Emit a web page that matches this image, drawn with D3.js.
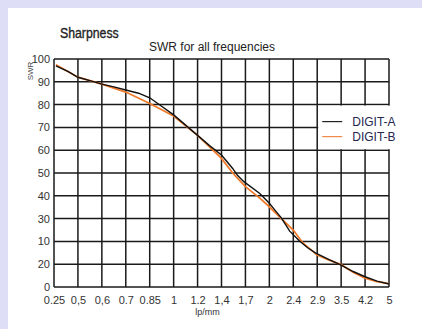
<!DOCTYPE html>
<html>
<head>
<meta charset="utf-8">
<script src="https://cdn.jsdelivr.net/npm/d3@7"></script>
<style>
  body { margin: 0; background: #dedef7; }
  svg { display: block; }
</style>
</head>
<body>
<svg id="chart"></svg>
<script>
var xTicks = [0.25, 0.5, 0.6, 0.7, 0.85, 1, 1.2, 1.4, 1.7, 2, 2.4, 2.9, 3.5, 4.2, 5];
var xLabels = ["0.25", "0,5", "0,6", "0.7", "0.85", "1", "1.2", "1,4", "1,7", "2", "2.4", "2.9", "3.5", "4.2", "5"];
var yTicks = [100, 90, 80, 70, 60, 50, 40, 30, 20, 10, 0];
var yLabels = ["100", "90", "80", "70", "60", "50", "40", "30", "10", "20", "0"];

// [lp/mm, SWR]
var digitA = [[0.27, 97], [0.4, 94.5], [0.5, 92], [0.55, 90.5], [0.6, 89], [0.65, 87.8], [0.7, 86.4],
  [0.78, 85], [0.85, 83], [0.92, 79.5], [1, 75.5], [1.1, 71], [1.2, 66.5], [1.3, 62], [1.4, 57.9],
  [1.54, 52], [1.6, 49], [1.68, 46.2], [1.88, 41], [2, 36.7], [2.1, 33.5], [2.2, 30.3], [2.34, 24.5],
  [2.53, 20.2], [2.7, 17.2], [2.87, 14.9], [3.2, 12], [3.5, 9.6], [3.85, 6.8], [4.2, 4.5], [4.6, 2.6], [5, 1.3]];
var digitB = [[0.27, 97.5], [0.5, 92], [0.6, 89], [0.7, 85.5], [0.85, 80.5], [1, 75], [1.2, 66.5],
  [1.4, 56.4], [1.54, 50], [1.7, 44], [1.88, 39], [2, 35.2], [2.2, 30], [2.4, 25], [2.6, 19.3],
  [2.9, 14], [3.2, 11.8], [3.5, 9.8], [3.85, 6.5], [4.2, 3.9], [4.6, 2.4], [5, 1.5]];

var W = 422, H = 329;
var margin = {top: 59, right: 33, bottom: 42, left: 54}
  , width = W - margin.left - margin.right
  , height = H - margin.top - margin.bottom;

var font = "'Liberation Sans', Arial, sans-serif";

var svg = d3.select("#chart").attr("width", W).attr("height", H);

svg.append("rect").attr("x", 8).attr("y", 8).attr("width", W - 8).attr("height", H - 8).attr("fill", "#fff");

var g = svg.append("g").attr("transform", "translate(" + margin.left + "," + margin.top + ")");

// uneven lp/mm ticks, evenly spaced on the chart
var x = d3.scaleLinear()
  .domain(xTicks)
  .range(xTicks.map(function(d, i) { return i * width / (xTicks.length - 1); }));
var y = d3.scaleLinear().domain([0, 100]).range([height, 0]);

var grid = g.append("g").attr("stroke", "#1a1a1a").attr("stroke-width", 1.5);
grid.selectAll("line.v").data(xTicks).enter().append("line")
  .attr("x1", function(d) { return x(d); }).attr("x2", function(d) { return x(d); })
  .attr("y1", 0).attr("y2", height);
grid.selectAll("line.h").data(yTicks).enter().append("line")
  .attr("y1", function(d) { return y(d); }).attr("y2", function(d) { return y(d); })
  .attr("x1", 0).attr("x2", width);

var xAxis = d3.axisBottom(x).tickValues(xTicks).tickSize(0).tickPadding(9)
  .tickFormat(function(d) { return xLabels[xTicks.indexOf(d)]; });
g.append("g").attr("transform", "translate(0," + height + ")").call(xAxis)
  .call(function(a) { a.select(".domain").remove(); })
  .selectAll("text").attr("fill", "#333").style("font", "11px " + font);

var yAxis = d3.axisLeft(y).tickValues(yTicks).tickSize(0).tickPadding(4)
  .tickFormat(function(d) { return yLabels[yTicks.indexOf(d)]; });
g.append("g").call(yAxis)
  .call(function(a) { a.select(".domain").remove(); })
  .selectAll("text").attr("fill", "#333").style("font", "11px " + font);

var line = d3.line()
  .x(function(d) { return x(d[0]); })
  .y(function(d) { return y(d[1]); });

g.append("path").datum(digitB).attr("d", line)
  .attr("fill", "none").attr("stroke", "#f07a2a").attr("stroke-width", 1.8);
g.append("path").datum(digitA).attr("d", line)
  .attr("fill", "none").attr("stroke", "#111").attr("stroke-width", 1.4);

// legend box sits on the grid cells between 80 and 60
var lx = x(2.9), ly = y(80);
svg.append("rect")
  .attr("x", margin.left + lx + 1).attr("y", margin.top + ly + 1)
  .attr("width", 80).attr("height", y(60) - y(80) - 2)
  .attr("fill", "#fff");

var legend = svg.append("g").attr("transform", "translate(" + (margin.left + lx) + "," + (margin.top + ly) + ")");
var series = [{name: "DIGIT-A", color: "#222"}, {name: "DIGIT-B", color: "#f08a4a"}];
series.forEach(function(s, i) {
  legend.append("line").attr("x1", 5).attr("x2", 25)
    .attr("y1", 17 + i * 15).attr("y2", 17 + i * 15)
    .attr("stroke", s.color).attr("stroke-width", 1.2);
  legend.append("text").attr("x", 35).attr("y", 17 + i * 15).attr("dy", "0.35em")
    .attr("fill", "#262650").style("font", "12px " + font)
    .text(s.name);
});

svg.append("text").attr("transform", "translate(60,38) scale(0.82,1)")
  .style("font", "15px " + font)
  .attr("fill", "#222").attr("stroke", "#222").attr("stroke-width", 0.35)
  .text("Sharpness");

svg.append("text").attr("x", 212).attr("y", 51).attr("text-anchor", "middle")
  .style("font", "12px " + font)
  .attr("fill", "#222").text("SWR for all frequencies");

svg.append("text").attr("transform", "translate(33,71) rotate(-90)").attr("text-anchor", "middle")
  .style("font", "8px " + font)
  .attr("fill", "#444").text("SWR");

svg.append("text").attr("x", margin.left + width / 2 - 14).attr("y", 315).attr("text-anchor", "middle")
  .style("font", "9px " + font)
  .attr("fill", "#333").text("lp/mm");
</script>
</body>
</html>
